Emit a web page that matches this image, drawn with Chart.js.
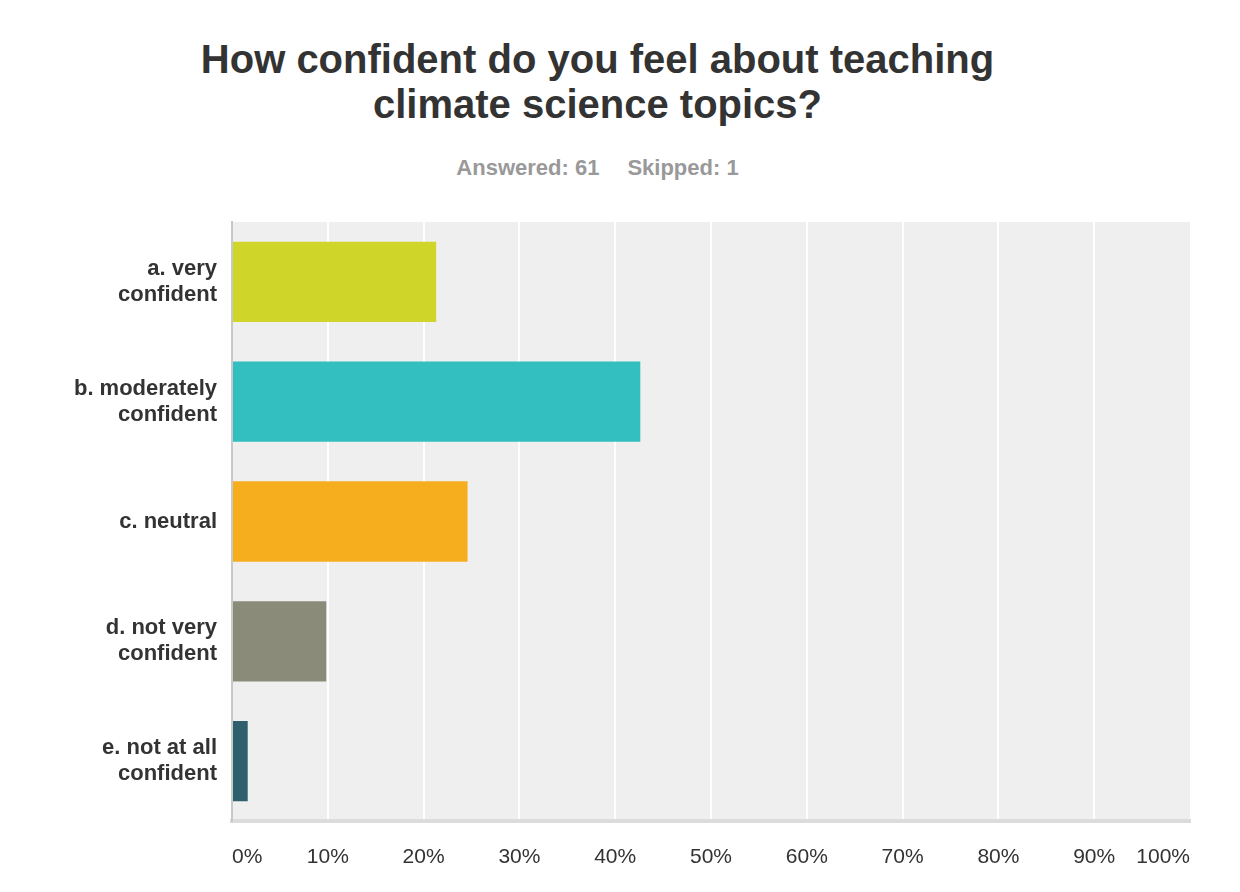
<!DOCTYPE html>
<html>
<head>
<meta charset="utf-8">
<title>How confident do you feel about teaching climate science topics?</title>
<script src="https://cdn.jsdelivr.net/npm/chart.js@4.4.1/dist/chart.umd.min.js"></script>
<style>
  body { margin: 0; background: #fff; }
  .wrapper { position: relative; width: 1240px; height: 892px; font-family: "Liberation Sans", Arial, Helvetica, sans-serif; }
  .title { position: absolute; left: 0; top: 37px; width: 1195px; margin: 0; text-align: center; font-size: 40px; line-height: 45px; font-weight: bold; color: #333; }
  .subtitle { position: absolute; left: 0; top: 155px; width: 1195px; margin: 0; text-align: center; font-size: 22px; line-height: 26px; font-weight: bold; color: #999; }
  .subtitle span + span { margin-left: 28px; }
  canvas { position: absolute; left: 0; top: 0; }
</style>
</head>
<body>
<div class="wrapper">
  <h1 class="title">How confident do you feel about teaching<br>climate science topics?</h1>
  <p class="subtitle"><span>Answered: 61</span><span>Skipped: 1</span></p>
  <canvas id="myChart" width="1240" height="892"></canvas>
</div>
<script>
const categories = [
  ['a. very', 'confident'],
  ['b. moderately', 'confident'],
  'c. neutral',
  ['d. not very', 'confident'],
  ['e. not at all', 'confident'],
];
const responses = [21.31, 42.62, 24.59, 9.84, 1.64];
const barColors = ['#d0d52a', '#33bec0', '#f6ae1f', '#8b8b7a', '#2f5f6d'];
const tickLabels = ['0%', '10%', '20%', '30%', '40%', '50%', '60%', '70%', '80%', '90%', '100%'];

const plotBackground = {
  id: 'plotBackground',
  beforeDraw: function (chart) {
    const area = chart.chartArea;
    const ctx = chart.ctx;

    ctx.save();
    ctx.fillStyle = '#efefef';
    ctx.fillRect(area.left, area.top, area.right - area.left, area.bottom - area.top);
    ctx.restore();
  },
};

const app = {
  initChart: function () {
    const thisApp = this;
    const fontFamily = '"Liberation Sans", Arial, Helvetica, sans-serif';

    thisApp.ctx = document.getElementById('myChart').getContext('2d');
    thisApp.chart = new Chart(thisApp.ctx, {
      type: 'bar',
      data: {
        labels: categories,
        datasets: [{
          label: 'Responses',
          data: responses,
          backgroundColor: barColors,
          borderWidth: 0,
          barPercentage: 0.67,
          categoryPercentage: 1,
        }],
      },
      options: {
        indexAxis: 'y',
        responsive: false,
        animation: false,
        layout: {
          padding: {top: 222, right: 50, bottom: 0, left: 0},
        },
        plugins: {
          legend: {display: false},
          tooltip: {enabled: false},
        },
        scales: {
          x: {
            min: 0,
            max: 100,
            afterFit: function (scale) {
              scale.height = 71;
            },
            grid: {
              // no white line on the plot's left and right edges
              color: function (context) {
                const value = context.tick ? context.tick.value : 0;
                return value === 0 || value === 100 ? 'rgba(0,0,0,0)' : '#ffffff';
              },
              lineWidth: 2,
              drawTicks: false,
            },
            border: {display: true, color: '#dcdcdc', width: 4},
            ticks: {
              stepSize: 10,
              align: 'inner',
              padding: 24,
              color: '#333',
              font: {family: fontFamily, size: 21},
              callback: function (value, index) {
                return tickLabels[index];
              },
            },
          },
          y: {
            afterFit: function (scale) {
              scale.width = 232;
            },
            grid: {display: false, drawTicks: false},
            border: {display: true, color: '#c8c8c8', width: 2},
            ticks: {
              padding: 15,
              color: '#333',
              font: {family: fontFamily, size: 22, weight: 'bold', lineHeight: 1.17},
            },
          },
        },
      },
      plugins: [plotBackground],
    });
  },
  init: function () {
    const thisApp = this;

    thisApp.initChart();
  },
};

app.init();
</script>
</body>
</html>
